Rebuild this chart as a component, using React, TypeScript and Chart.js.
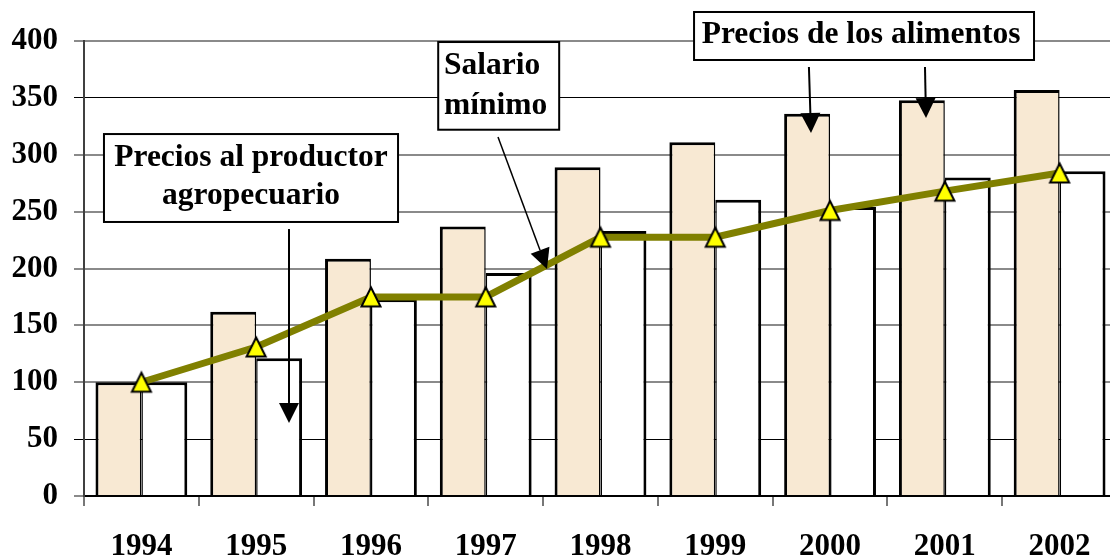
import { useEffect, useRef } from "react";
import { Chart, registerables } from "chart.js";

Chart.register(...registerables);

// ---- data ----
const years = ["1994", "1995", "1996", "1997", "1998", "1999", "2000", "2001", "2002"];
const foodPrices = [100, 162, 208.5, 237, 289, 311, 336, 348, 357];
const producerPrices = [100, 121, 173, 196, 233, 260.5, 254, 280, 285.5];
const minimumWage = [100, 131, 175, 175, 227.5, 227.5, 251, 268, 284];
const yMin = 0;
const yMax = 400;
const yStep = 50;

// ---- annotation labels (anchored in data space: category index, value) ----
const labelProducer = ["Precios al productor", "agropecuario"];
const labelWage = ["Salario", "mínimo"];
const labelFood = ["Precios de los alimentos"];

type Ann = {
  box: [number, number, number, number];
  lines: { text: string; x: number; y: number; align: CanvasTextAlign }[];
  arrows: [number, number, number, number, number][];
};

const annotations: Ann[] = [
  {
    box: [-0.326, 318.2, 2.236, 240.9],
    lines: [
      { text: labelProducer[0], x: 0.955, y: 290.1, align: "center" },
      { text: labelProducer[1], x: 0.955, y: 256.7, align: "center" },
    ],
    arrows: [[1.286, 234.7, 1.286, 64.2, 2]],
  },
  {
    box: [2.586, 399.1, 3.64, 322.0],
    lines: [
      { text: labelWage[0], x: 2.636, y: 371.0, align: "left" },
      { text: labelWage[1], x: 2.636, y: 335.8, align: "left" },
    ],
    arrows: [[3.107, 315.6, 3.534, 199.6, 1.5]],
  },
  {
    box: [4.815, 425.5, 7.777, 383.3],
    lines: [{ text: labelFood[0], x: 6.27, y: 398.2, align: "center" }],
    arrows: [
      [5.816, 377.1, 5.834, 319.1, 2],
      [6.827, 377.1, 6.836, 332.3, 2],
    ],
  },
];

const FONT = '"Liberation Serif", "Times New Roman", serif';
const CANVAS_W = 1125;
const CANVAS_H = 557;

function makeTriangle(): HTMLCanvasElement {
  const c = document.createElement("canvas");
  c.width = 24;
  c.height = 24;
  const g = c.getContext("2d")!;
  g.beginPath();
  g.moveTo(12, 2.5);
  g.lineTo(21.5, 21.5);
  g.lineTo(2.5, 21.5);
  g.closePath();
  g.fillStyle = "#FFFF00";
  g.fill();
  g.lineWidth = 2;
  g.strokeStyle = "#000";
  g.lineJoin = "miter";
  g.stroke();
  return c;
}

const annotationPlugin = {
  id: "boxAnnotations",
  afterDraw(chart: any) {
    const ctx: CanvasRenderingContext2D = chart.ctx;
    const xs = chart.scales.x;
    const ys = chart.scales.y;
    const px = (v: number) => xs.getPixelForValue(v);
    const py = (v: number) => ys.getPixelForValue(v);
    ctx.save();
    for (const a of annotations) {
      for (const [x1, y1, x2, y2, w] of a.arrows) {
        const ax = px(x1), ay = py(y1), bx = px(x2), by = py(y2);
        const dx = bx - ax, dy = by - ay;
        const len = Math.hypot(dx, dy);
        const ux = dx / len, uy = dy / len;
        const L = 20, W = 20;
        const baseX = bx - ux * L, baseY = by - uy * L;
        ctx.strokeStyle = "#000";
        ctx.lineWidth = w;
        ctx.beginPath();
        ctx.moveTo(ax, ay);
        ctx.lineTo(baseX, baseY);
        ctx.stroke();
        ctx.fillStyle = "#000";
        ctx.beginPath();
        ctx.moveTo(bx, by);
        ctx.lineTo(baseX - (uy * W) / 2, baseY + (ux * W) / 2);
        ctx.lineTo(baseX + (uy * W) / 2, baseY - (ux * W) / 2);
        ctx.closePath();
        ctx.fill();
      }
      const [bx1, by1, bx2, by2] = a.box;
      const l = px(bx1), t = py(by1), r = px(bx2), b = py(by2);
      ctx.fillStyle = "#fff";
      ctx.fillRect(l, t, r - l, b - t);
      ctx.strokeStyle = "#000";
      ctx.lineWidth = 2;
      ctx.strokeRect(l, t, r - l, b - t);
      ctx.fillStyle = "#000";
      ctx.font = `bold 31.5px ${FONT}`;
      ctx.textBaseline = "alphabetic";
      for (const ln of a.lines) {
        ctx.textAlign = ln.align;
        ctx.fillText(ln.text, px(ln.x), py(ln.y));
      }
    }
    ctx.restore();
  },
};

export default function App() {
  const ref = useRef<HTMLCanvasElement | null>(null);

  useEffect(() => {
    document.body.style.margin = "0";
    const tri = makeTriangle();
    const chart = new Chart(ref.current!, {
      type: "bar",
      data: {
        labels: years,
        datasets: [
          {
            type: "line",
            label: "Salario mínimo",
            data: minimumWage,
            borderColor: "#808000",
            borderWidth: 7,
            pointStyle: tri as any,
            pointRadius: 10,
            pointHoverRadius: 10,
            tension: 0,
            fill: false,
            order: 0,
          } as any,
          {
            label: "Precios de los alimentos",
            data: foodPrices,
            backgroundColor: "#F8E9D3",
            borderColor: "#000",
            borderWidth: { top: 3, left: 3, right: 1.5, bottom: 0 },
            borderSkipped: false,
            order: 1,
          },
          {
            label: "Precios al productor agropecuario",
            data: producerPrices,
            backgroundColor: "#FFFFFF",
            borderColor: "#000",
            borderWidth: { top: 3, left: 1.5, right: 3, bottom: 0 },
            borderSkipped: false,
            order: 2,
          },
        ],
      },
      options: {
        animation: false,
        responsive: false,
        maintainAspectRatio: false,
        devicePixelRatio: 1,
        layout: { autoPadding: false, padding: { top: 41, right: 8, left: 0, bottom: 0 } },
        datasets: {
          bar: { categoryPercentage: 0.8, barPercentage: 1.0 },
        },
        plugins: {
          legend: { display: false },
          tooltip: { enabled: false },
        },
        scales: {
          x: {
            z: 1,
            offset: true,
            afterFit: (s: any) => {
              s.height = 61;
              s.paddingLeft = 0;
              s.paddingRight = 0;
            },
            grid: {
              display: true,
              offset: true,
              drawOnChartArea: false,
              drawTicks: true,
              tickLength: 10,
              color: "#777",
              lineWidth: 2,
            },
            border: { display: true, color: "#000", width: 2 },
            ticks: {
              color: "#000",
              padding: 22,
              font: { family: FONT, size: 31, weight: "bold", lineHeight: 1.2 },
              maxRotation: 0,
            },
          },
          y: {
            min: yMin,
            max: yMax,
            afterFit: (s: any) => {
              s.width = 84;
              s.paddingTop = 0;
              s.paddingBottom = 0;
            },
            grid: {
              drawTicks: true,
              tickLength: 10,
              color: (c: any) =>
                c.tick && (c.tick.value === 50 || c.tick.value === 350) ? "#000" : "#8a8a8a",
              lineWidth: (c: any) =>
                c.tick && (c.tick.value === 50 || c.tick.value === 350) ? 1 : 2,
            },
            border: { display: true, color: "#404040", width: 2 },
            ticks: {
              stepSize: yStep,
              color: "#000",
              padding: 16,
              font: { family: FONT, size: 31, weight: "bold" },
            },
          },
        },
      },
      plugins: [annotationPlugin],
    });
    return () => chart.destroy();
  }, []);

  return (
    <div
      style={{
        position: "fixed",
        left: 0,
        top: 0,
        width: 1110,
        height: 557,
        overflow: "hidden",
        background: "#fff",
      }}
    >
      <canvas
        ref={ref}
        width={CANVAS_W}
        height={CANVAS_H}
        style={{ display: "block", width: CANVAS_W, height: CANVAS_H }}
      />
    </div>
  );
}
